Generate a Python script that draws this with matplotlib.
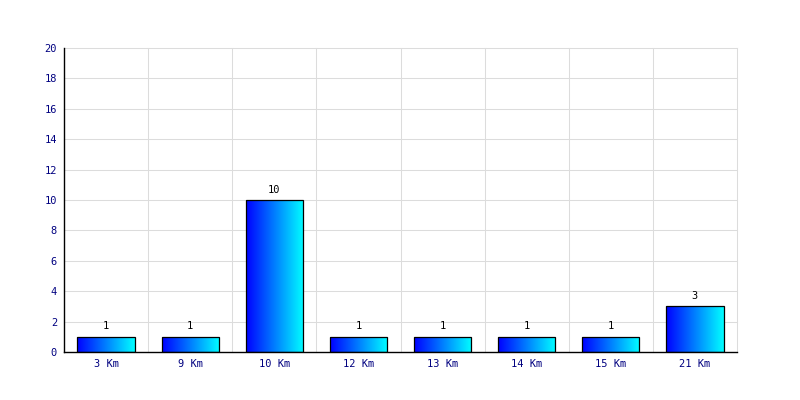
import matplotlib
matplotlib.use("Agg")
import matplotlib.pyplot as plt
import numpy as np
from matplotlib.colors import LinearSegmentedColormap

# data
categories = ["3 Km", "9 Km", "10 Km", "12 Km", "13 Km", "14 Km", "15 Km", "21 Km"]
counts = [1, 1, 10, 1, 1, 1, 1, 3]
y_ticks = list(range(0, 21, 2))

fig = plt.figure(figsize=(8, 4), dpi=100)
ax = fig.add_axes([0.08, 0.12, 0.84125, 0.76])

x = np.arange(len(categories))
bar_width = 0.68
bars = ax.bar(x, counts, width=bar_width, color="none", edgecolor="black",
              linewidth=0.9, zorder=4)

# horizontal blue -> cyan gradient inside each bar
cmap = LinearSegmentedColormap.from_list("bc", ["#0000ff", "#00ffff"])
grad = np.linspace(0, 1, 256).reshape(1, -1)
for b in bars:
    bx, by = b.get_x(), b.get_y()
    w, h = b.get_width(), b.get_height()
    im = ax.imshow(grad, cmap=cmap, aspect="auto", extent=[bx, bx + w, by, by + h],
                   zorder=3, interpolation="bicubic")
    im.set_clip_path(b)

for xi, v in zip(x, counts):
    ax.text(xi, v + 0.35, str(v), ha="center", va="bottom", fontsize=7.5,
            family="DejaVu Sans Mono", color="black")

ax.set_xlim(-0.5, len(categories) - 0.5)
ax.set_ylim(0, 20)
ax.set_yticks(y_ticks)
ax.set_xticks(x)
ax.set_xticklabels(categories)

# grid: horizontal at ticks, vertical at category boundaries and right edge
for yv in y_ticks[1:]:
    ax.axhline(yv, color="#dcdcdc", linewidth=0.75, zorder=1, clip_on=False)
for xb in np.arange(0.5, len(categories), 1.0):
    ax.axvline(xb, color="#dcdcdc", linewidth=0.75, zorder=1, clip_on=False)

ax.tick_params(length=0, pad=5, labelsize=7.5, labelcolor="#000080")
for lab in ax.get_xticklabels() + ax.get_yticklabels():
    lab.set_family("DejaVu Sans Mono")

for s in ["top", "right"]:
    ax.spines[s].set_visible(False)
ax.spines["left"].set_color("black")
ax.spines["bottom"].set_color("black")
ax.spines["left"].set_linewidth(1.0)
ax.spines["bottom"].set_linewidth(1.0)
ax.spines["left"].set_zorder(5)
ax.spines["bottom"].set_zorder(5)

fig.savefig("out.png", dpi=100)
